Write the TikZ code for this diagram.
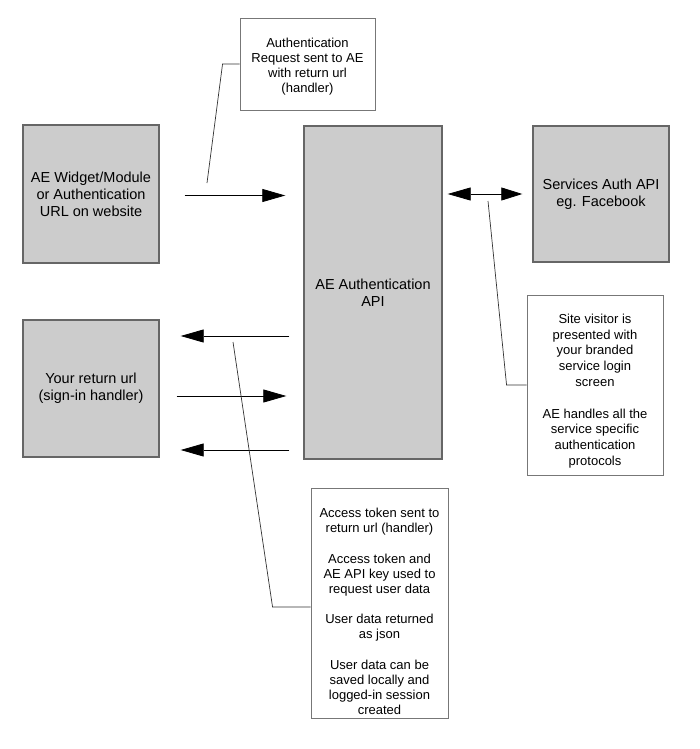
\documentclass[tikz,border=0pt]{standalone}
\usepackage{fontspec}
\setmainfont{Liberation Sans}
\usetikzlibrary{arrows.meta}
\definecolor{boxfill}{HTML}{CCCCCC}
\definecolor{boxline}{HTML}{666666}
\definecolor{noteline}{HTML}{777777}
\tikzset{
  graybox/.style={draw=boxline, line width=1.4pt, fill=boxfill, minimum width=#1, inner sep=0pt, align=center,
    font=\fontsize{14.5}{17}\selectfont},
  notebox/.style={draw=noteline, line width=0.9pt, fill=white, inner sep=0pt},
  notetext/.style={inner sep=0pt, align=center, font=\fontsize{13}{15}\selectfont},
  flow/.style={draw=black, line width=0.8pt, -{Triangle[length=23pt,width=13pt]}},
  both/.style={draw=black, line width=0.8pt, {Triangle[length=23pt,width=13pt]}-{Triangle[length=21pt,width=13pt]}},
  leader/.style={draw=black!80, line width=0.7pt},
}
\begin{document}
\begin{tikzpicture}[x=1pt,y=-1pt]
\useasboundingbox (0,0) rectangle (700,749);
% gray boxes
\node[graybox=136pt, minimum height=138pt] (widget) at (91,194) {AE Widget/Module\\or Authentication\\URL on website};
\node[graybox=138pt, minimum height=333pt] (api) at (373,292.5) {AE Authentication\\API};
\node[graybox=136pt, minimum height=136pt] (services) at (601,194) {Services Auth API\\eg. Facebook};
\node[graybox=136pt, minimum height=137pt] (ret) at (91,388.5) {Your return url\\(sign-in handler)};
% notes
\node[notebox, minimum width=135pt, minimum height=92pt] (note1) at (307.5,64) {};
\node[notetext] (note1t) at ([yshift=-2.5pt]note1.center) {Authentication\\Request sent to AE\\with return url\\(handler)};
\node[notebox, minimum width=136pt, minimum height=180pt] (note2) at (595,385) {};
\node[notetext, font=\fontsize{13}{15.8}\selectfont] (note2t) at ([yshift=-6pt]note2.center) {Site visitor is\\presented with\\your branded\\service login\\screen\\[15.8pt]AE handles all the\\service specific\\authentication\\protocols};
\node[notebox, minimum width=137pt, minimum height=230pt] (note3) at (379.5,603) {};
\node[notetext] (note3t) at ([yshift=-8.5pt]note3.center) {Access token sent to\\return url (handler)\\[15.5pt]Access token and\\AE API key used to\\request user data\\[15.5pt]User data returned\\as json\\[15.5pt]User data can be\\saved locally and\\logged-in session\\created};
% connectors
\draw[flow, shorten <=25pt, shorten >=18pt] ([yshift=-1.5pt]widget.east) -- ([yshift=-1.5pt]widget.east -| api.west);
\draw[both, shorten <=5pt, shorten >=10pt] (services.west -| api.east) -- (services.west);
\draw[flow, shorten <=14pt, shorten >=21pt] ([yshift=52.5pt]ret.east -| api.west) -- ([yshift=52.5pt]ret.east);
\draw[flow, shorten <=17pt, shorten >=17pt] ([yshift=-7.5pt]ret.east) -- ([yshift=-7.5pt]ret.east -| api.west);
\draw[flow, shorten <=14pt, shorten >=21pt] ([yshift=-61.5pt]ret.east -| api.west) -- ([yshift=-61.5pt]ret.east);
% leader lines
\coordinate (c1) at (207,183);
\coordinate (c2) at (488,201);
\coordinate (c3) at (233,342);
\draw[leader] (c1) -- ([xshift=-17pt]note1.west) -- (note1.west);
\draw[leader] (c2) -- ([xshift=-20pt]note2.west) -- (note2.west);
\draw[leader] (c3) -- ([xshift=-38pt,yshift=-4pt]note3.west) -- ([yshift=-4pt]note3.west);
\end{tikzpicture}
\end{document}
